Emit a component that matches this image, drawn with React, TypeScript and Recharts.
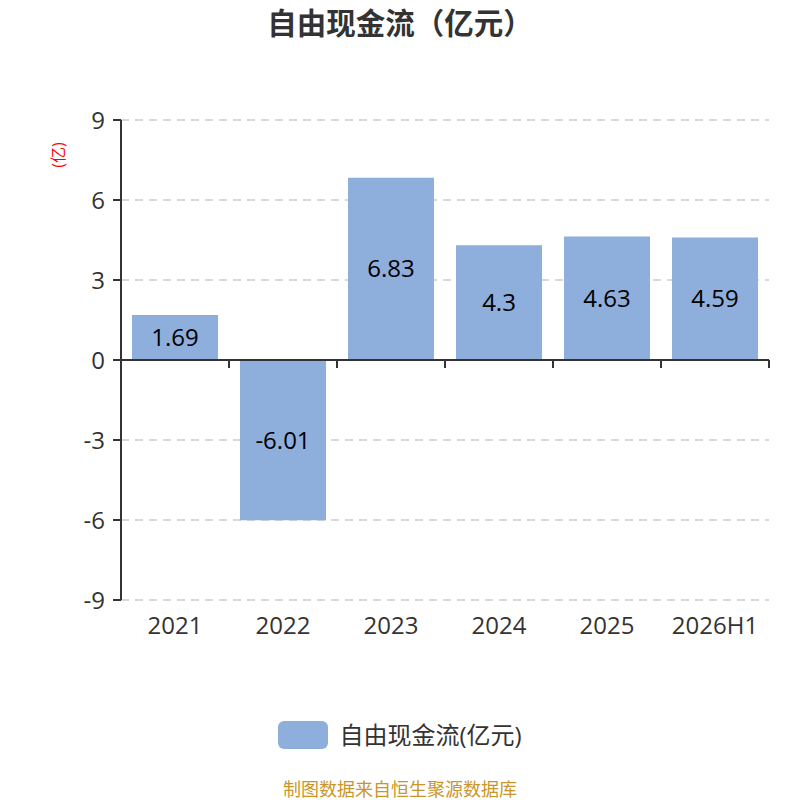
import React from 'react';
import { BarChart, Bar, XAxis, YAxis, CartesianGrid, ReferenceLine, LabelList, Legend } from 'recharts';

const categories = ['2021', '2022', '2023', '2024', '2025', '2026H1'];
const cashFlow = [1.69, -6.01, 6.83, 4.3, 4.63, 4.59];
const yTicks = [-9, -6, -3, 0, 3, 6, 9];

const seriesName = '自由现金流(亿元)';
const data = categories.map((c, i) => ({ name: c, value: cashFlow[i] }));

const FONT = '"Open Sans", "Noto Sans CJK SC", sans-serif';
const BAR_COLOR = '#8EAEDB';

// 零轴：一条线加上类目分隔刻度
const ZeroAxis = (props: any) => {
    const { x1, x2, y1 } = props;
    const n = categories.length;
    const step = (x2 - x1) / n;
    const ticks = [];
    for (let i = 1; i <= n; i++) {
        const x = x1 + step * i;
        ticks.push(<line key={i} x1={x} x2={x} y1={y1} y2={y1 + 8} stroke="#333" strokeWidth={2} />);
    }
    return (
        <g>
            <line x1={x1} x2={x2} y1={y1} y2={y1} stroke="#333" strokeWidth={2} />
            {ticks}
        </g>
    );
};

const LegendContent = () => (
    <div style={{ display: 'flex', justifyContent: 'center', alignItems: 'center', fontFamily: FONT, height: 32 }}>
        <span style={{ display: 'inline-block', width: 50, height: 28, borderRadius: 6, background: BAR_COLOR, marginRight: 11 }} />
        <span style={{ fontSize: 24, lineHeight: '32px', color: '#333' }}>{seriesName}</span>
    </div>
);

export default function App() {
    return (
        <div style={{ position: 'absolute', left: 0, top: 0, width: 800, height: 800, background: '#fff', fontFamily: FONT, overflow: 'hidden' }}>
            <div style={{ position: 'absolute', top: 0, width: 800, textAlign: 'center', fontSize: 29.5, fontWeight: 'bold', color: '#333' }}>
                自由现金流（亿元）
            </div>
            <BarChart width={800} height={800} data={data} margin={{ top: 120, right: 31, bottom: 128, left: 0 }}>
                <CartesianGrid vertical={false} stroke="#ccc" strokeDasharray="8 6" strokeWidth={1.5} />
                <XAxis
                    dataKey="name"
                    axisLine={false}
                    tickLine={false}
                    tickSize={0}
                    tickMargin={17}
                    height={40}
                    tick={{ fill: '#333', fontSize: 24, fontFamily: FONT }}
                />
                <YAxis
                    domain={[-9, 9]}
                    ticks={yTicks}
                    width={121}
                    axisLine={{ stroke: '#333', strokeWidth: 2 }}
                    tickLine={{ stroke: '#333', strokeWidth: 2 }}
                    tickSize={8}
                    tickMargin={8}
                    tick={{ fill: '#333', fontSize: 24, fontFamily: FONT }}
                    label={(p: any) => {
                        const vb = p.viewBox;
                        const cx = vb.x + 58;
                        const cy = vb.y + 35;
                        return (
                            <text x={cx} y={cy} transform={`rotate(-90 ${cx} ${cy})`} textAnchor="middle" dominantBaseline="central" fill="#f00" fontSize={16} fontFamily={FONT}>
                                (亿)
                            </text>
                        );
                    }}
                />
                <ReferenceLine y={0} shape={<ZeroAxis />} />
                <Legend verticalAlign="bottom" content={<LegendContent />} wrapperStyle={{ top: 719, left: 0, width: 800 }} />
                <Bar dataKey="value" name={seriesName} fill={BAR_COLOR} barSize={86} isAnimationActive={false}>
                    <LabelList dataKey="value" position="center" fill="#000" fontSize={24} fontFamily={FONT} />
                </Bar>
            </BarChart>
            <div style={{ position: 'absolute', top: 778, width: 800, textAlign: 'center', fontSize: 18, lineHeight: '22px', color: '#C8962A' }}>
                制图数据来自恒生聚源数据库
            </div>
        </div>
    );
}
